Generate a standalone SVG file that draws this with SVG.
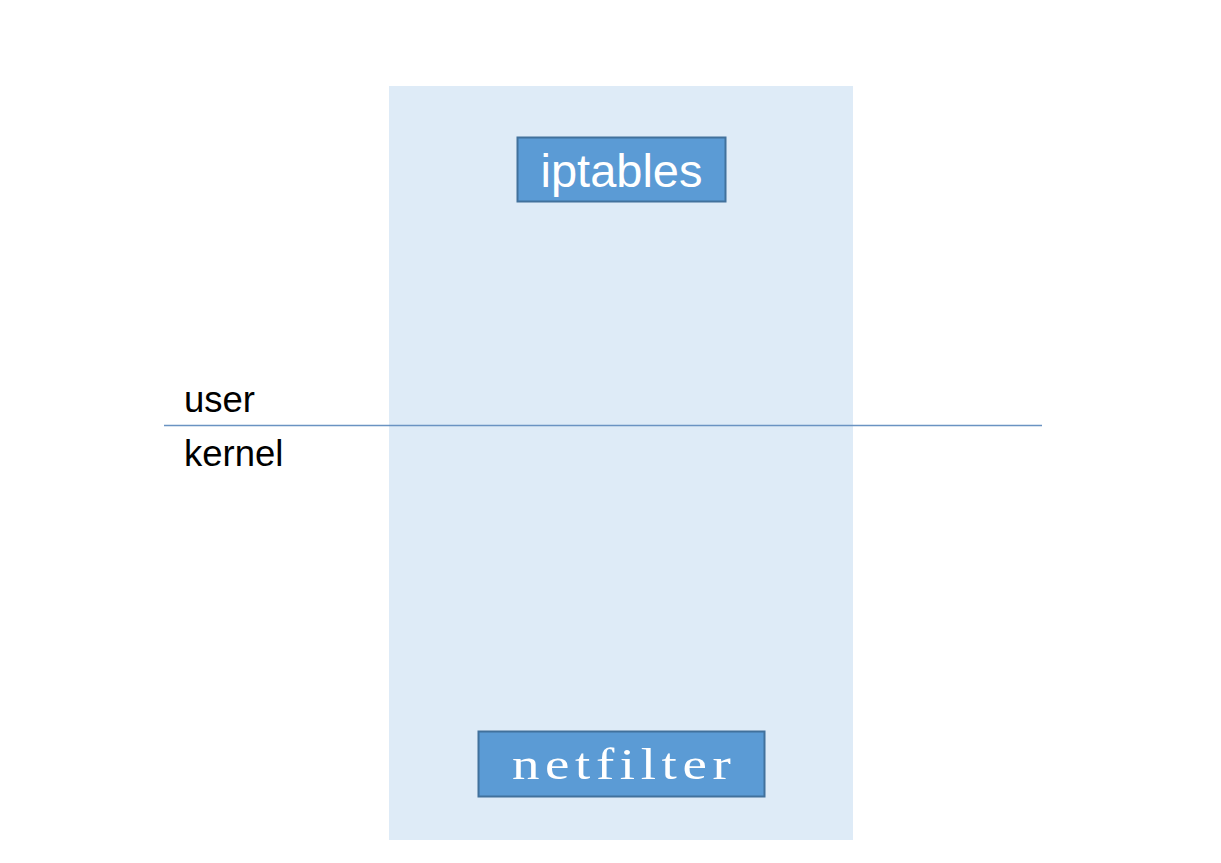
<svg xmlns="http://www.w3.org/2000/svg" width="1221" height="863" viewBox="0 0 1221 863">
<style>
.box{fill:#5B9BD5;stroke:#41719C;stroke-width:2}
.wt{fill:#FFFFFF}
.lbl{fill:#000000;font-family:"Liberation Sans",Arial,sans-serif;font-size:36.5px}
</style>
<rect width="1221" height="863" fill="#FFFFFF"/>
<g id="panel">
<rect x="389" y="86" width="464" height="754" fill="#DEEBF7"/>
</g>
<g id="connectors">
<line x1="164" y1="425.5" x2="1042" y2="425.5" stroke="#6A93C2" stroke-width="1.5"/>
</g>
<g id="labels">
<text class="lbl" x="184" y="412">user</text>
<text class="lbl" x="184" y="466">kernel</text>
</g>
<g id="iptables">
<rect class="box" x="517.5" y="137.5" width="208" height="64"/>
<text class="wt" x="621.5" y="187" text-anchor="middle" font-family="'Liberation Sans',Arial,sans-serif" font-size="47">iptables</text>
</g>
<g id="netfilter">
<rect class="box" x="478.5" y="731.5" width="286" height="65"/>
<text class="wt" transform="translate(512,779) scale(1.25,1)" x="0" y="0" font-family="'Liberation Serif','Times New Roman',serif" font-size="44" style="font-variant-ligatures:none;font-feature-settings:'liga' 0" textLength="175" lengthAdjust="spacing">netfilter</text>
</g>
</svg>
